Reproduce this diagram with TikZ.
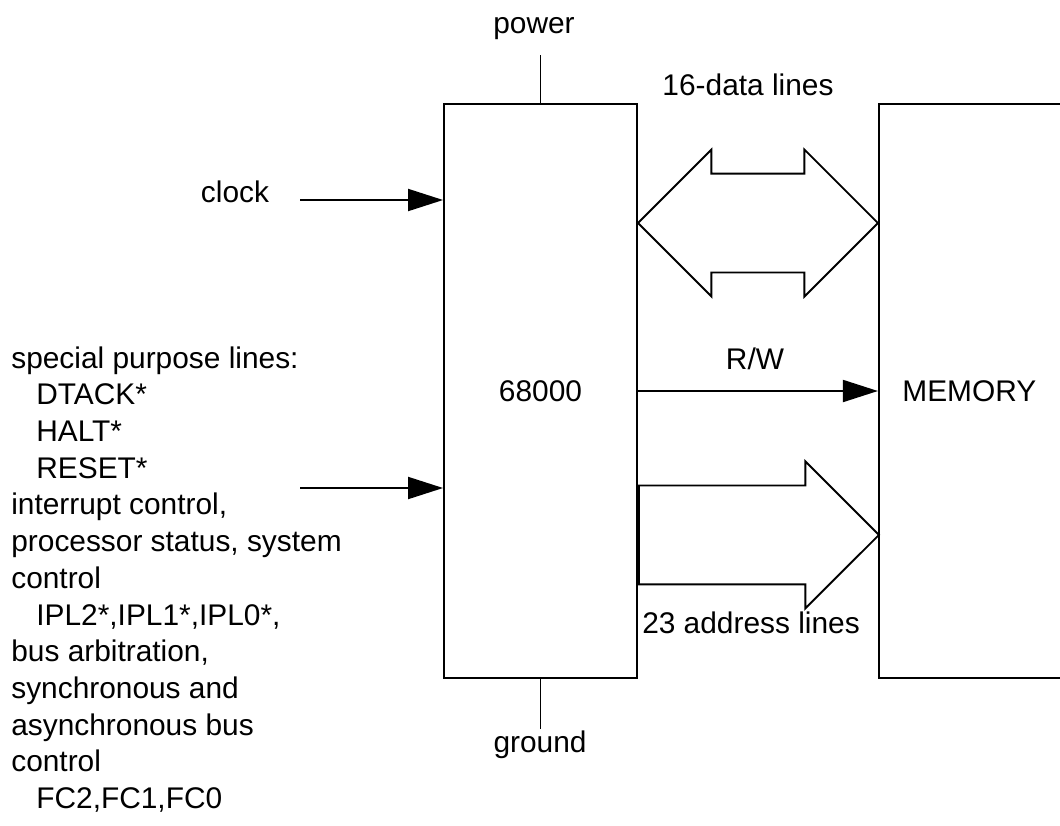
\documentclass[tikz,border=0pt]{standalone}
\usepackage{fontspec}
\setmainfont{Liberation Sans}
\usetikzlibrary{positioning}
\usetikzlibrary{arrows.meta}
\usetikzlibrary{shapes.arrows}
\usetikzlibrary{calc}
\tikzset{
  bloque/.style={
    rectangle, draw=black, line width=1.1pt, fill=white,
    minimum width=3.86cm, minimum height=11.48cm,
    align=center, font=\fontsize{17}{21}\selectfont, inner sep=0pt
  },
  etiqueta/.style={font=\fontsize{17}{21}\selectfont, inner sep=0pt},
  texto/.style={font=\fontsize{17}{20.9}\selectfont, align=left, inner sep=0pt},
  flecha/.style={-{Triangle[length=0.7cm, width=0.44cm]}, line width=1.1pt},
  linea/.style={line width=1.1pt},
  bus/.style={
    single arrow, draw=black, line width=1.1pt, inner xsep=0pt, inner ysep=0.97cm,
    minimum height=4.8cm, single arrow head extend=0.48cm
  },
  busdoble/.style={
    double arrow, draw=black, line width=1.1pt, inner xsep=0pt, inner ysep=0.97cm,
    minimum height=4.8cm, double arrow head extend=0.48cm
  }
}
\begin{document}
\begin{tikzpicture}[x=0.02cm, y=-0.02cm]
  \useasboundingbox (0,0) rectangle (1060,825);
  \clip (0,0) rectangle (1060,825);

  \node[bloque] (cpu) at (540.5,391) {68000};
  \node[bloque, right=4.8cm of cpu] (mem) {MEMORY\hspace*{0.24cm}};

  \node[busdoble, yshift=3.36cm] (datos) at ($(cpu.east)!0.5!(mem.west)$) {};
  \node[bus, anchor=tail] (direcciones) at ([yshift=-2.88cm]cpu.east) {};
  \draw[flecha] (cpu.east) -- (mem.west);

  \node[etiqueta, anchor=base] (power) at (534,33) {power};
  \node[etiqueta, anchor=base] (ground) at (540,752) {ground};
  \draw[linea] (cpu.north) -- ++(0,-48);
  \draw[linea] (cpu.south) -- ++(0,50);

  \node[etiqueta, anchor=base] (datoslab) at (748,95) {16-data lines};
  \node[etiqueta, anchor=base] (rw) at (755,369) {R/W};
  \node[etiqueta, anchor=base] (dirlab) at (751,633) {23 address lines};

  \node[etiqueta, anchor=base] (clock) at (235,202) {clock};
  \coordinate (clkin) at (300,200);
  \coordinate (ctlin) at (300,488);
  \draw[flecha] (clkin) -- (clkin -| cpu.west);
  \draw[flecha] (ctlin) -- (ctlin -| cpu.west);

  \node[texto, anchor=north west] (lineas) at (11,346) {special purpose lines:\\
    \hspace*{0.5cm}DTACK*\\
    \hspace*{0.5cm}HALT*\\
    \hspace*{0.5cm}RESET*\\
    interrupt control,\\
    processor status, system\\
    control\\
    \hspace*{0.5cm}IPL2*,IPL1*,IPL0*,\\
    bus arbitration,\\
    synchronous and\\
    asynchronous bus\\
    control\\
    \hspace*{0.5cm}FC2,FC1,FC0};
\end{tikzpicture}
\end{document}
